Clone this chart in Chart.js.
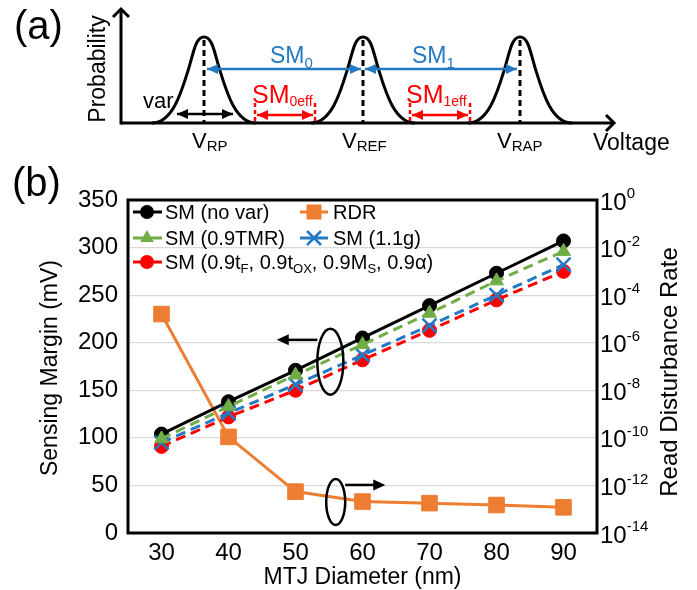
<!DOCTYPE html>
<html><head><meta charset="utf-8">
<script src="https://cdn.jsdelivr.net/npm/chart.js@4.4.1/dist/chart.umd.min.js"></script>
<style>
html,body{margin:0;padding:0;background:#fff;}
#wrap{position:relative;width:697px;height:590px;overflow:hidden;background:#fff;}
#c{position:absolute;left:0;top:0;}
#ov{position:absolute;left:0;top:0;pointer-events:none;}
</style></head>
<body>
<div id="wrap">
<canvas id="c" width="697" height="590"></canvas>
<svg id="ov" width="697" height="590" font-family="Liberation Sans, Arial, sans-serif">
  <defs>
    <marker id="hb" markerUnits="userSpaceOnUse" markerWidth="12" markerHeight="10" refX="11" refY="5" orient="auto-start-reverse"><path d="M0,0 L11,5 L0,10 Z" fill="#2479c4"/></marker>
    <marker id="hr" markerUnits="userSpaceOnUse" markerWidth="12" markerHeight="10" refX="11" refY="5" orient="auto-start-reverse"><path d="M0,0 L11,5 L0,10 Z" fill="#ff0000"/></marker>
    <marker id="hk" markerUnits="userSpaceOnUse" markerWidth="12" markerHeight="10" refX="11" refY="5" orient="auto-start-reverse"><path d="M0,0 L11,5 L0,10 Z" fill="#000"/></marker>
  </defs>
  <!-- panel (a) -->
  <text x="14" y="39" font-size="40">(a)</text>
  <text transform="translate(105,69) rotate(-90)" text-anchor="middle" font-size="23">Probability</text>
  <g id="peaks"></g>
  <line x1="121" y1="123" x2="614" y2="123" stroke="#000" stroke-width="3"/>
  <polyline points="606,115 614,123 606,131" fill="none" stroke="#000" stroke-width="3"/>
  <line x1="121" y1="124.5" x2="121" y2="9" stroke="#000" stroke-width="3"/>
  <polyline points="113,17 121,9 129,17" fill="none" stroke="#000" stroke-width="3"/>
  <!-- blue SM arrows -->
  <line x1="207" y1="69" x2="361" y2="69" stroke="#2479c4" stroke-width="2.5" marker-start="url(#hb)" marker-end="url(#hb)"/>
  <line x1="365" y1="69" x2="517" y2="69" stroke="#2479c4" stroke-width="2.5" marker-start="url(#hb)" marker-end="url(#hb)"/>
  <text x="270" y="63" font-size="23" fill="#2479c4">SM<tspan font-size="15" dy="5">0</tspan></text>
  <text x="412" y="63" font-size="23" fill="#2479c4">SM<tspan font-size="15" dy="5">1</tspan></text>
  <!-- red effective arrows -->
  <line x1="255" y1="103" x2="255" y2="123" stroke="#ff0000" stroke-width="2.5" stroke-dasharray="4,3"/>
  <line x1="315" y1="103" x2="315" y2="123" stroke="#ff0000" stroke-width="2.5" stroke-dasharray="4,3"/>
  <line x1="257" y1="115" x2="313" y2="115" stroke="#ff0000" stroke-width="2.5" marker-start="url(#hr)" marker-end="url(#hr)"/>
  <line x1="410" y1="103" x2="410" y2="123" stroke="#ff0000" stroke-width="2.5" stroke-dasharray="4,3"/>
  <line x1="470" y1="103" x2="470" y2="123" stroke="#ff0000" stroke-width="2.5" stroke-dasharray="4,3"/>
  <line x1="412" y1="115" x2="468" y2="115" stroke="#ff0000" stroke-width="2.5" marker-start="url(#hr)" marker-end="url(#hr)"/>
  <text x="252" y="103" font-size="25" fill="#ff0000">SM<tspan font-size="14" dy="3">0eff</tspan></text>
  <text x="406" y="103" font-size="25" fill="#ff0000">SM<tspan font-size="14" dy="3">1eff</tspan></text>
  <!-- var -->
  <line x1="177" y1="114" x2="233" y2="114" stroke="#000" stroke-width="2.5" marker-start="url(#hk)" marker-end="url(#hk)"/>
  <text x="143" y="108" font-size="22">var</text>
  <!-- voltage labels -->
  <text x="192" y="148" font-size="22">V<tspan font-size="15" dy="3">RP</tspan></text>
  <text x="342" y="148" font-size="22">V<tspan font-size="15" dy="3">REF</tspan></text>
  <text x="497" y="148" font-size="22">V<tspan font-size="15" dy="3">RAP</tspan></text>
  <text x="593" y="150" font-size="23">Voltage</text>

  <!-- panel (b) label -->
  <text x="12" y="196" font-size="40">(b)</text>

  <!-- legend -->
  <g id="legend">
    <line x1="133" y1="212" x2="162" y2="212" stroke="#000" stroke-width="3"/>
    <circle cx="147" cy="212" r="7" fill="#000"/>
    <text x="165" y="219" font-size="20">SM (no var)</text>
    <line x1="300" y1="212" x2="328" y2="212" stroke="#ed7d31" stroke-width="3"/>
    <rect x="306.5" y="204.5" width="15" height="15" fill="#ed7d31"/>
    <text x="333" y="219" font-size="20">RDR</text>

    <line x1="133" y1="238" x2="162" y2="238" stroke="#70ad47" stroke-width="3"/>
    <polygon points="147,230 153.9,242 140.1,242" fill="#70ad47"/>
    <text x="165" y="245" font-size="20">SM (0.9TMR)</text>
    <line x1="300" y1="238" x2="328" y2="238" stroke="#2479c4" stroke-width="3"/>
    <line x1="307" y1="231" x2="321" y2="245" stroke="#2479c4" stroke-width="2.5"/>
    <line x1="307" y1="245" x2="321" y2="231" stroke="#2479c4" stroke-width="2.5"/>
    <text x="333" y="245" font-size="20">SM (1.1g)</text>

    <line x1="133" y1="262" x2="162" y2="262" stroke="#ff0000" stroke-width="3"/>
    <circle cx="147" cy="262" r="7" fill="#ff0000"/>
    <text x="165" y="269" font-size="20">SM (0.9t<tspan font-size="13" dy="4">F</tspan><tspan dy="-4">, 0.9t</tspan><tspan font-size="13" dy="4">OX</tspan><tspan dy="-4">, 0.9M</tspan><tspan font-size="13" dy="4">S</tspan><tspan dy="-4">, 0.9α)</tspan></text>
  </g>
</svg>
</div>
<script>
// ---------- data ----------
const diameters = ['30', '40', '50', '60', '70', '80', '90'];
const smNoVar    = [104, 138, 171, 205, 239, 273, 307];
const sm09TMR    = [99, 133, 166, 198, 231, 265, 296];
const sm11g      = [95, 126, 156, 187, 218, 250, 282];
const sm09Params = [91, 122, 150, 182, 213, 245, 275];
const rdr        = [1.6e-5, 1.1e-10, 5.5e-13, 2.1e-13, 1.8e-13, 1.5e-13, 1.2e-13];
const smTicks    = [0, 50, 100, 150, 200, 250, 300, 350];
const rdrTicks   = [1e-14, 1e-12, 1e-10, 1e-8, 1e-6, 1e-4, 1e-2, 1];
const rdrTickExp = ['-14', '-12', '-10', '-8', '-6', '-4', '-2', '0'];

// ---------- schematic (a): distribution shapes ----------
const peakCenters = [204, 363, 520];
(function drawPeaks() {
  const g = document.getElementById('peaks');
  const ns = 'http://www.w3.org/2000/svg';
  peakCenters.forEach(c => {
    const p = document.createElementNS(ns, 'path');
    const d = `M${c-52},123 C${c-32},123 ${c-23},93.6 ${c-16},70.8 C${c-10},51.2 ${c-8.5},37 ${c},37 ` +
              `C${c+8.5},37 ${c+10},51.2 ${c+16},70.8 C${c+23},93.6 ${c+32},123 ${c+52},123`;
    p.setAttribute('d', d);
    p.setAttribute('fill', 'none');
    p.setAttribute('stroke', '#000');
    p.setAttribute('stroke-width', '3');
    g.appendChild(p);
    const l = document.createElementNS(ns, 'line');
    l.setAttribute('x1', c); l.setAttribute('x2', c);
    l.setAttribute('y1', 40); l.setAttribute('y2', 123);
    l.setAttribute('stroke', '#000'); l.setAttribute('stroke-width', '3');
    l.setAttribute('stroke-dasharray', '6,4');
    g.appendChild(l);
  });
})();

// ---------- chart (b) ----------
const FONT = 'Liberation Sans, Arial, sans-serif';
Chart.defaults.font.family = FONT;
Chart.defaults.color = '#000';

const COLORS = { black: '#000000', green: '#70ad47', blue: '#2479c4', red: '#ff0000', orange: '#ed7d31' };

function arrow(ctx, x1, y1, x2, y2, color) {
  const ang = Math.atan2(y2 - y1, x2 - x1);
  const L = 12, W = 5.5;
  ctx.strokeStyle = color; ctx.fillStyle = color; ctx.lineWidth = 2.5;
  ctx.beginPath();
  ctx.moveTo(x1, y1);
  ctx.lineTo(x2 - Math.cos(ang) * L * 0.8, y2 - Math.sin(ang) * L * 0.8);
  ctx.stroke();
  ctx.beginPath();
  ctx.moveTo(x2, y2);
  ctx.lineTo(x2 - Math.cos(ang) * L - Math.sin(ang) * W, y2 - Math.sin(ang) * L + Math.cos(ang) * W);
  ctx.lineTo(x2 - Math.cos(ang) * L + Math.sin(ang) * W, y2 - Math.sin(ang) * L - Math.cos(ang) * W);
  ctx.closePath();
  ctx.fill();
}

// annotation groups, placed in data units (category index, SM value)
const annoLeft  = { cx: 2.52, cy: 180, rx: 13, ry: 33, arrowTo: 1.72, arrowY: 203 };
const annoRight = { cx: 2.60, cy: 32.6, rx: 9.5, ry: 23, arrowTo: 3.34, arrowY: 50.5 };

const overlay = {
  id: 'overlay',
  afterDatasetsDraw(chart) {
    const { ctx, chartArea: a, scales } = chart;
    const xs = scales.x, ys = scales.y;
    ctx.save();
    [annoLeft, annoRight].forEach((an, i) => {
      const cx = xs.getPixelForValue(an.cx), cy = ys.getPixelForValue(an.cy);
      ctx.beginPath();
      ctx.lineWidth = 2.5; ctx.strokeStyle = '#000';
      ctx.ellipse(cx, cy, an.rx, an.ry, 0, 0, Math.PI * 2);
      ctx.stroke();
      const ay = ys.getPixelForValue(an.arrowY);
      const tx = xs.getPixelForValue(an.arrowTo);
      const sx = i === 0 ? cx - an.rx : cx + an.rx;
      arrow(ctx, sx, ay, tx, ay, '#000');
    });
    ctx.lineWidth = 3; ctx.strokeStyle = '#000';
    ctx.strokeRect(a.left, a.top, a.right - a.left, a.bottom - a.top);
    ctx.restore();
  },
  afterDraw(chart) {
    const { ctx, chartArea: a, scales } = chart;
    const y2 = scales.y2;
    ctx.save();
    ctx.fillStyle = '#000';
    rdrTicks.forEach((v, i) => {
      const py = y2.getPixelForValue(v);
      ctx.font = `24px ${FONT}`;
      ctx.textAlign = 'left'; ctx.textBaseline = 'middle';
      ctx.fillText('10', 600, py + 3);
      const w = ctx.measureText('10').width;
      ctx.font = `15px ${FONT}`;
      ctx.fillText(rdrTickExp[i], 600 + w, py - 6);
    });
    ctx.font = `23px ${FONT}`;
    ctx.textAlign = 'center'; ctx.textBaseline = 'alphabetic';
    ctx.save(); ctx.translate(57, 368); ctx.rotate(-Math.PI / 2);
    ctx.fillText('Sensing Margin (mV)', 0, 0); ctx.restore();
    ctx.font = `24px ${FONT}`;
    ctx.save(); ctx.translate(677, 372); ctx.rotate(-Math.PI / 2);
    ctx.fillText('Read Disturbance Rate', 0, 0); ctx.restore();
    ctx.font = `23px ${FONT}`;
    ctx.fillText('MTJ Diameter (nm)', (a.left + a.right) / 2, 584);
    ctx.restore();
  }
};

const dashed = [10, 6];
new Chart(document.getElementById('c'), {
  type: 'line',
  data: {
    labels: diameters,
    datasets: [
      { label: 'SM (0.9TMR)', data: sm09TMR, yAxisID: 'y', borderColor: COLORS.green, backgroundColor: COLORS.green,
        borderWidth: 3, borderDash: dashed, pointStyle: 'triangle', pointRadius: 8, pointBorderWidth: 1 },
      { label: 'SM (1.1g)', data: sm11g, yAxisID: 'y', borderColor: COLORS.blue, backgroundColor: COLORS.blue,
        borderWidth: 3, borderDash: dashed, pointStyle: 'crossRot', pointRadius: 10, pointBorderWidth: 2.5 },
      { label: 'SM (0.9tF, 0.9tOX, 0.9MS, 0.9α)', data: sm09Params, yAxisID: 'y', borderColor: COLORS.red, backgroundColor: COLORS.red,
        borderWidth: 3, borderDash: dashed, pointStyle: 'circle', pointRadius: 7, pointBorderWidth: 1 },
      { label: 'SM (no var)', data: smNoVar, yAxisID: 'y', borderColor: COLORS.black, backgroundColor: COLORS.black,
        borderWidth: 3, pointStyle: 'circle', pointRadius: 7, pointBorderWidth: 1 },
      { label: 'RDR', data: rdr, yAxisID: 'y2', borderColor: COLORS.orange, backgroundColor: COLORS.orange,
        borderWidth: 3, pointStyle: 'rect', pointRadius: 11, pointBorderWidth: 1 }
    ]
  },
  options: {
    responsive: false,
    animation: false,
    devicePixelRatio: 1,
    layout: { padding: { top: 200, left: 0, right: 0, bottom: 0 } },
    plugins: { legend: { display: false }, tooltip: { enabled: false } },
    elements: { line: { tension: 0 } },
    scales: {
      x: {
        type: 'category', offset: true,
        grid: { display: false, drawTicks: false },
        border: { display: false },
        ticks: { color: '#000', font: { size: 24 }, padding: 6 },
        afterFit: s => { s.height = 57; }
      },
      y: {
        position: 'left', min: 0, max: 350,
        afterBuildTicks: s => { s.ticks = smTicks.map(v => ({ value: v })); },
        grid: { color: '#d9d9d9', lineWidth: 1.2, drawTicks: false },
        border: { display: false },
        ticks: { color: '#000', font: { size: 24 }, padding: 10 },
        afterFit: s => { s.width = 128; }
      },
      y2: {
        type: 'logarithmic', position: 'right', min: 1e-14, max: 1,
        afterBuildTicks: s => { s.ticks = rdrTicks.map(v => ({ value: v })); },
        grid: { display: false, drawTicks: false },
        border: { display: false },
        ticks: { display: false },
        afterFit: s => { s.width = 100; }
      }
    }
  },
  plugins: [overlay]
});
</script>
</body></html>
